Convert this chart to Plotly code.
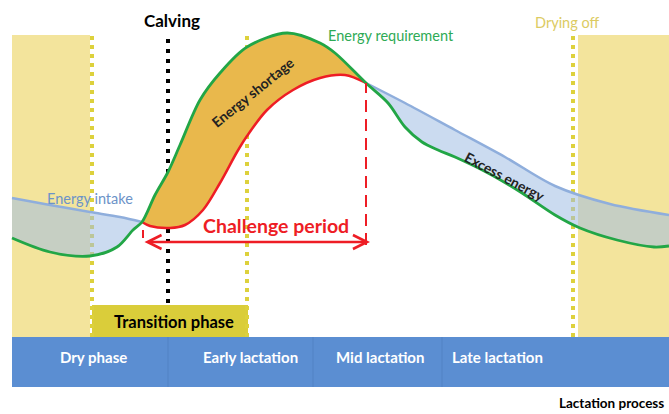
import plotly.graph_objects as go

# ---------------- data ----------------
# Energy requirement curve (time units, energy units)
req_x = [12, 50, 90, 117, 133, 142, 155, 168, 180, 200, 220, 247, 287, 320, 335, 366,
         388, 405, 422, 438, 455, 488, 522, 555, 580, 617, 654, 669]
req_e = [176, 162, 158, 167, 184, 192, 219, 242, 269, 314, 341, 367, 381, 371, 361, 331,
         311, 287, 272, 264, 257, 241, 221, 199, 186, 174, 167, 168]

# Energy intake: before, during (shortage) and after the challenge period
intake_pre_x = [12, 50, 90, 120, 142]
intake_pre_e = [216, 209, 202, 197, 192]
intake_short_x = [142, 150, 170, 185, 203, 220, 237, 247, 267, 293, 320, 345, 366]
intake_short_e = [192, 188, 186, 189, 204, 231, 262, 278, 304, 324, 336, 339, 331]
intake_post_x = [366, 405, 455, 505, 555, 610, 669]
intake_post_e = [331, 311, 284, 257, 228, 210, 199]

# Phase band
phase_bounds = [12, 168, 313, 442, 669]
phase_labels = ["Dry phase", "Early lactation", "Mid lactation", "Late lactation"]
phase_label_x = [93, 250, 380, 497]

# Key moments
dry_end = 92          # start of transition
calving = 168
transition_end = 247
drying_off = 573
challenge_start = 143
challenge_end = 366

E_TOP = 379
E_BAND_TOP = 77
E_BAND_BOT = 27
E_TRANS_TOP = 109

GREEN = "#22A646"
RED = "#EE1D25"
BLUE_LINE = "#8FAEDC"
BLUE_FILL = "rgba(160,190,228,0.55)"
ORANGE = "#E9B84C"
YELLOW_BG = "#F3E49C"
YELLOW_DOT = "#DDD13C"
BAND = "#5B8ED2"
FONT = "Lato"

fig = go.Figure()

def seg(xs, es, lo, hi):
    px = [x for x in xs if lo <= x <= hi]
    pe = [e for x, e in zip(xs, es) if lo <= x <= hi]
    return px, pe

sp = dict(shape="spline", smoothing=0.9)

# left excess fill (intake above requirement)
gx, ge = seg(req_x, req_e, 0, 142)
fig.add_trace(go.Scatter(x=gx, y=ge, mode="lines", line=dict(width=0, **sp), hoverinfo="skip"))
fig.add_trace(go.Scatter(x=intake_pre_x, y=intake_pre_e, mode="lines", line=dict(width=0, **sp),
                         fill="tonexty", fillcolor=BLUE_FILL, hoverinfo="skip"))
# right excess fill
gx, ge = seg(req_x, req_e, 366, 700)
fig.add_trace(go.Scatter(x=gx, y=ge, mode="lines", line=dict(width=0, **sp), hoverinfo="skip"))
fig.add_trace(go.Scatter(x=intake_post_x, y=intake_post_e, mode="lines", line=dict(width=0, **sp),
                         fill="tonexty", fillcolor=BLUE_FILL, hoverinfo="skip"))
# shortage fill
fig.add_trace(go.Scatter(x=intake_short_x, y=intake_short_e, mode="lines", line=dict(width=0, **sp),
                         hoverinfo="skip"))
gx, ge = seg(req_x, req_e, 142, 366)
fig.add_trace(go.Scatter(x=gx, y=ge, mode="lines", line=dict(width=0, **sp),
                         fill="tonexty", fillcolor=ORANGE, hoverinfo="skip"))

# lines
fig.add_trace(go.Scatter(x=intake_pre_x, y=intake_pre_e, mode="lines",
                         line=dict(color=BLUE_LINE, width=2.5, **sp), hoverinfo="skip"))
fig.add_trace(go.Scatter(x=intake_post_x, y=intake_post_e, mode="lines",
                         line=dict(color=BLUE_LINE, width=2.5, **sp), hoverinfo="skip"))
fig.add_trace(go.Scatter(x=intake_short_x, y=intake_short_e, mode="lines",
                         line=dict(color=RED, width=2.5, **sp), hoverinfo="skip"))
fig.add_trace(go.Scatter(x=req_x, y=req_e, mode="lines",
                         line=dict(color=GREEN, width=2.8, **sp), hoverinfo="skip"))

shapes = []
# yellow backgrounds
shapes.append(dict(type="rect", x0=phase_bounds[0], x1=90, y0=E_BAND_TOP, y1=E_TOP,
                   fillcolor=YELLOW_BG, line_width=0, layer="below"))
shapes.append(dict(type="rect", x0=578, x1=phase_bounds[-1], y0=E_BAND_TOP, y1=E_TOP,
                   fillcolor=YELLOW_BG, line_width=0, layer="below"))
# transition box
shapes.append(dict(type="rect", x0=dry_end, x1=transition_end + 1, y0=E_BAND_TOP, y1=E_TRANS_TOP,
                   fillcolor="#DACD3A", line_width=0, layer="below"))
# dotted verticals
for xv, y0 in [(dry_end, E_BAND_TOP), (transition_end, E_BAND_TOP), (drying_off, E_BAND_TOP)]:
    shapes.append(dict(type="line", x0=xv, x1=xv, y0=y0, y1=E_TOP,
                       line=dict(color=YELLOW_DOT, width=4, dash="4px,5px"), layer="below"))
shapes.append(dict(type="line", x0=calving, x1=calving, y0=E_TRANS_TOP + 2, y1=E_TOP,
                   line=dict(color="black", width=4, dash="4px,6px"), layer="below"))
# phase band
shapes.append(dict(type="rect", x0=phase_bounds[0], x1=phase_bounds[-1], y0=E_BAND_BOT, y1=E_BAND_TOP,
                   fillcolor=BAND, line_width=0, layer="above"))
for b in phase_bounds[1:-1]:
    shapes.append(dict(type="line", x0=b, x1=b, y0=E_BAND_BOT, y1=E_BAND_TOP,
                       line=dict(color="#5282C4", width=1), layer="above"))
# challenge dashed markers
shapes.append(dict(type="line", x0=challenge_end, x1=challenge_end, y0=169, y1=331,
                   line=dict(color=RED, width=2, dash="12px,7px"), layer="above"))
shapes.append(dict(type="line", x0=challenge_start, x1=challenge_start, y0=176, y1=184,
                   line=dict(color=RED, width=2), layer="above"))

ann = []
def txt(x, y, t, size, color, bold=False, angle=0):
    ann.append(dict(x=x, y=y, text=f"<b>{t}</b>" if bold else t, showarrow=False,
                    font=dict(family=FONT, size=size, color=color), textangle=angle,
                    xanchor="center", yanchor="middle"))

txt(172, 394, "Calving", 17, "black", bold=True)
txt(391, 379, "Energy requirement", 14.5, "#2EAA55")
txt(567, 392, "Drying off", 14.5, "#DCCB62")
txt(90, 216, "Energy intake", 14.5, "#6C93C8")
txt(252, 322, "Energy shortage", 14, "#222222", bold=True, angle=-39)
txt(505, 238, "Excess energy", 14, "#222222", bold=True, angle=28)
txt(276, 189, "Challenge period", 19.5, RED, bold=True)
txt(174, 92, "Transition phase", 16.5, "black", bold=True)
for lbl, lx in zip(phase_labels, phase_label_x):
    txt(lx, 57, lbl, 15, "white", bold=True)
txt(611, 11, "Lactation process", 13.5, "black", bold=True)

# challenge arrow (double headed)
ann.append(dict(x=challenge_end + 4, y=172, ax=challenge_start, ay=172, axref="x", ayref="y",
                xref="x", yref="y", text="", showarrow=True, arrowhead=5, startarrowhead=5,
                arrowside="end+start", arrowsize=1.1, startarrowsize=1.1,
                arrowwidth=2.5, arrowcolor=RED))

fig.update_layout(
    width=669, height=414, margin=dict(l=0, r=0, t=0, b=0),
    paper_bgcolor="white", plot_bgcolor="white", showlegend=False,
    xaxis=dict(range=[0, 669], visible=False, fixedrange=True),
    yaxis=dict(range=[0, 414], visible=False, fixedrange=True),
    shapes=shapes, annotations=ann,
)
fig.write_html("out.html", config={"displayModeBar": False},
               post_script="document.body.style.margin='0';document.body.style.padding='0';")
